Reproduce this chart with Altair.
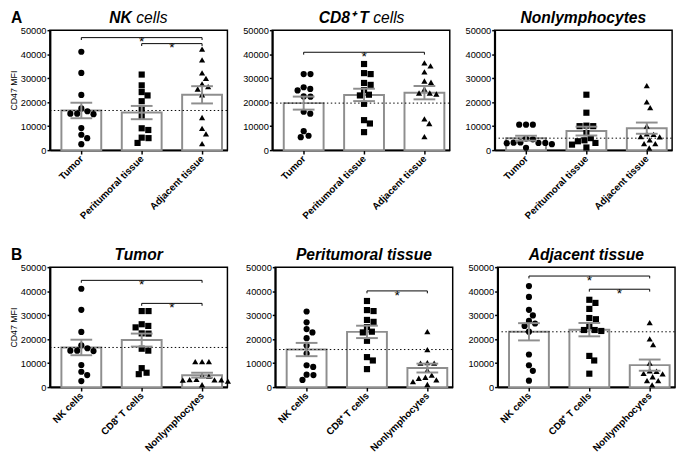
import altair as alt
import pandas as pd

# ---------------- data (CD47 MFI) ----------------
tissues = ["Tumor", "Peritumoral tissue", "Adjacent tissue"]
cell_types = ["NK cells", "CD8⁺ T cells", "Nonlymphocytes"]

nk_tumor = [41000, 32200, 23000, 17400, 16200, 15200, 15000, 15200, 9200, 6400, 5000, 2500]
nk_peri = [31500, 27000, 24200, 22800, 20400, 17300, 14000, 9100, 8400, 5200, 5000, 3000]
nk_adj = [42100, 37600, 32200, 29900, 27600, 26500, 25500, 23100, 13600, 9100, 6800, 2700]

cd8_tumor = [31700, 31700, 26200, 25500, 24900, 22400, 22300, 16000, 15200, 7900, 6000, 5400]
cd8_peri = [35900, 32100, 31700, 28000, 27200, 25000, 23100, 22800, 19300, 12500, 11100, 7500]
cd8_adj = [36400, 35100, 32600, 28800, 28300, 25500, 23800, 23800, 23400, 13000, 11100, 5600]

non_tumor = [10600, 10600, 10600, 4800, 4500, 3200, 3000, 2900, 3000, 3100, 2500, 1000]
non_peri = [23100, 15600, 10200, 10000, 10000, 7100, 5000, 4100, 3700, 3000, 2300, 1100]
non_adj = [26900, 20100, 17700, 10000, 6800, 6600, 5700, 5500, 4300, 2700, 2700, 900]

# significance brackets: from group, to group, height
br_nk = ([0, 1], [2, 2], [46900, 44400])
br_cd8 = ([0], [2], [40800])
br_non = ([], [], [])
br_tumor = ([0, 1], [2, 2], [44500, 34900])
br_peri = ([1], [2], [40100])
br_adj = ([0, 1], [2, 2], [46300, 40800])

# ---------------- styling ----------------
W, H = 182, 123
XDOM = [-0.52, 2.42]
GRAY = "#8e8e8e"
FONT = "Liberation Sans"
PX_X = W / (XDOM[1] - XDOM[0])
PX_Y = H / 50000
TFS = 16  # panel title font size


def swarm(vals, diam=6.8):
    """collision-based beeswarm layout; returns horizontal offsets in x units"""
    order = sorted(range(len(vals)), key=lambda i: -vals[i])
    placed = []
    offs = [0.0] * len(vals)
    cands = [0.0]
    for k in range(1, 200):
        cands += [k * 0.25, -k * 0.25]
    for i in order:
        y = vals[i] * PX_Y
        for c in cands:
            if all((c - px) ** 2 + (y - py) ** 2 >= diam ** 2 for px, py in placed):
                break
        placed.append((c, y))
        offs[i] = c / PX_X
    return offs


def panel(groups, xlabels, tbold, trest, split, brackets, first, letter=None):
    rows = []
    for gi, vals in enumerate(groups):
        for v, o in zip(vals, swarm(vals)):
            rows.append({"g": gi, "v": v, "xp": gi + o})
    df = pd.DataFrame(rows)

    xscale = alt.Scale(domain=XDOM, nice=False, zero=False)
    yscale = alt.Scale(domain=[0, 50000], nice=False)
    lab = "[" + ",".join("'" + l + "'" for l in xlabels) + "][datum.value]"
    xaxis = alt.Axis(values=[0, 1, 2], labelExpr=lab, title=None, labelAngle=-45,
                     labelAlign="right", labelBaseline="middle", labelFontWeight="bold",
                     labelFontSize=10, labelPadding=3, tickSize=4, grid=False,
                     labelOverlap=False, labelBound=False, labelFlush=False)
    if first:
        yaxis = alt.Axis(values=list(range(0, 50001, 10000)), format="d", title="CD47 MFI",
                         titleFontSize=9, titleFontWeight="normal", titlePadding=2,
                         labelFontSize=9.5, labelPadding=1, tickSize=3, grid=False)
    else:
        yaxis = alt.Axis(values=list(range(0, 50001, 10000)), format="d", title=None,
                         labelFontSize=9.5, labelPadding=1, tickSize=3, grid=False)

    def X(f):
        return alt.X(f + ":Q", scale=xscale, axis=xaxis)

    def Y(f):
        return alt.Y(f + ":Q", scale=yscale, axis=yaxis)

    base = alt.Chart(df)
    stats = base.transform_aggregate(m="mean(v)", se="stderr(v)", groupby=["g"]).transform_calculate(
        lo="datum.m - datum.se", hi="datum.m + datum.se",
        c1="datum.g - 0.18", c2="datum.g + 0.18",
        b1="datum.g - 0.33", b2="datum.g + 0.33", z="0")

    bars = stats.mark_rect(fill="white", stroke=GRAY, strokeWidth=2).encode(
        x=X("b1"), x2="b2:Q", y=Y("m"), y2="z:Q")
    ref = base.transform_filter("datum.g == 0").transform_aggregate(m="mean(v)").mark_rule(
        color="black", strokeDash=[1.5, 2.5], strokeWidth=1).encode(
        y=Y("m"), x=alt.value(0), x2=alt.value(W))
    pts = base.mark_point(filled=True, opacity=1, color="black", size=40).encode(
        x=X("xp"), y=Y("v"),
        shape=alt.Shape("g:N", scale=alt.Scale(domain=[0, 1, 2],
                                               range=["circle", "square", "triangle-up"]),
                        legend=None))
    err_v = stats.mark_rule(color=GRAY, strokeWidth=2).encode(x=X("g"), y=Y("lo"), y2="hi:Q")
    err_c = stats.transform_fold(["lo", "hi"], as_=["k", "e"]).mark_rule(
        color=GRAY, strokeWidth=2).encode(x=X("c1"), x2="c2:Q", y=Y("e"))

    layers = [bars, ref, pts, err_v, err_c]

    if brackets[0]:
        bdf = pd.DataFrame({"a": brackets[0], "b": brackets[1], "h": brackets[2]})
        bb = alt.Chart(bdf).transform_calculate(mid="(datum.a + datum.b) / 2", tip="datum.h - 1000")
        layers.append(bb.mark_rule(color="black", strokeWidth=1).encode(
            x=X("a"), x2="b:Q", y=Y("h")))
        layers.append(bb.transform_fold(["a", "b"], as_=["k", "e"]).mark_rule(
            color="black", strokeWidth=1).encode(x=X("e"), y=Y("h"), y2="tip:Q"))
        layers.append(bb.mark_text(text="*", fontSize=14, font=FONT, dy=5, color="black").encode(
            x=X("mid"), y=Y("h")))

    # titles
    TY = -7
    if trest:
        layers.append(alt.Chart(pd.DataFrame({"t": [tbold]})).mark_text(
            font=FONT, fontSize=TFS, fontWeight="bold", fontStyle="italic", align="right",
            baseline="alphabetic", color="black").encode(
            text="t:N", x=alt.value(W / 2 + split), y=alt.value(TY)))
        layers.append(alt.Chart(pd.DataFrame({"t": [trest]})).mark_text(
            font=FONT, fontSize=TFS, fontStyle="italic", align="left",
            baseline="alphabetic", color="black").encode(
            text="t:N", x=alt.value(W / 2 + split + 4.5), y=alt.value(TY)))
    else:
        layers.append(alt.Chart(pd.DataFrame({"t": [tbold]})).mark_text(
            font=FONT, fontSize=TFS, fontWeight="bold", fontStyle="italic", align="center",
            baseline="alphabetic", color="black").encode(
            text="t:N", x=alt.value(W / 2), y=alt.value(TY)))
    if letter:
        layers.append(alt.Chart(pd.DataFrame({"t": [letter]})).mark_text(
            font=FONT, fontSize=TFS, fontWeight="bold", align="left",
            baseline="alphabetic", color="black").encode(
            text="t:N", x=alt.value(-40), y=alt.value(TY)))

    return alt.layer(*layers).properties(width=W, height=H)


pA1 = panel([nk_tumor, nk_peri, nk_adj], tissues, "NK", "cells", -7, br_nk, True, "A")
pA2 = panel([cd8_tumor, cd8_peri, cd8_adj], tissues, "CD8⁺ T", "cells", 8, br_cd8, False)
pA3 = panel([non_tumor, non_peri, non_adj], tissues, "Nonlymphocytes", "", 0, br_non, False)

pB1 = panel([nk_tumor, cd8_tumor, non_tumor], cell_types, "Tumor", "", 0, br_tumor, True, "B")
pB2 = panel([nk_peri, cd8_peri, non_peri], cell_types, "Peritumoral tissue", "", 0, br_peri, False)
pB3 = panel([nk_adj, cd8_adj, non_adj], cell_types, "Adjacent tissue", "", 0, br_adj, False)

rowA = alt.hconcat(pA1, pA2, pA3, spacing=12)
rowB = alt.hconcat(pB1, pB2, pB3, spacing=12)

chart = alt.vconcat(rowA, rowB, spacing=26).properties(
    padding={"left": 0, "top": -4, "right": 0, "bottom": 0}
).configure(font=FONT).configure_view(
    stroke="black", strokeWidth=1.5
).configure_axis(
    domainColor="black", domainWidth=2, tickColor="black", tickWidth=1.5,
    labelColor="black", titleColor="black", labelFont=FONT, titleFont=FONT
)

chart.save("out.html", embed_options={"renderer": "svg", "actions": False})
